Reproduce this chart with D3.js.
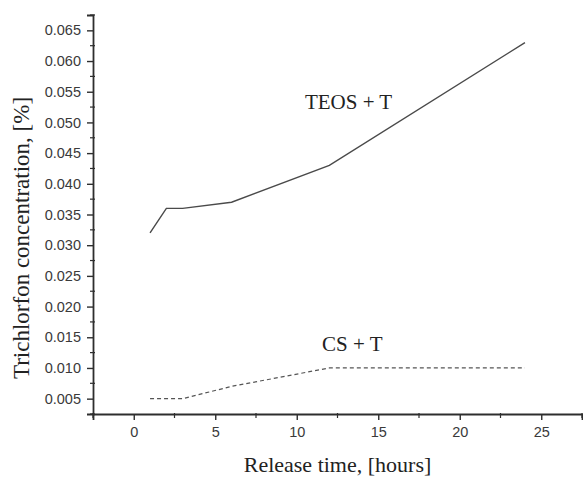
<!DOCTYPE html>
<html>
<head>
<meta charset="utf-8">
<script src="https://cdn.jsdelivr.net/npm/d3@7/dist/d3.min.js"></script>
<style>
  html, body { margin: 0; padding: 0; background: #fff; }
  svg { display: block; }
</style>
</head>
<body>
<svg id="chart" width="583" height="477"></svg>
<script>
// Release time points (hours)
const hours = [1, 2, 3, 6, 12, 24];
// Trichlorfon concentration, %
const teosValues = [0.032, 0.036, 0.036, 0.037, 0.043, 0.063];
const csValues = [0.005, 0.005, 0.005, 0.007, 0.010, 0.010];
const seriesNames = ["TEOS + T", "CS + T"];
const xTickValues = [0, 5, 10, 15, 20, 25];
const yTickValues = [0.005, 0.010, 0.015, 0.020, 0.025, 0.030, 0.035, 0.040, 0.045, 0.050, 0.055, 0.060, 0.065];

const svg = d3.select("#chart");
const plotLeft = 93, plotRight = 582, plotTop = 15, plotBottom = 414;

const x = d3.scaleLinear().domain([-2.5, 27.5]).range([plotLeft, plotRight]);
const y = d3.scaleLinear().domain([0.0025, 0.0675]).range([plotBottom, plotTop]);

const axisColor = "#2e2e2e";
const textColor = "#3a3a3a";
const tickFont = "Liberation Sans, Arial, sans-serif";
const serif = "Liberation Serif, Times New Roman, serif";

// Minor ticks (halfway between majors)
const xMinor = d3.range(-2.5, 27.6, 5);
const yMinor = d3.range(0.0025, 0.0676, 0.005);

const gx = svg.append("g").attr("transform", `translate(0,${plotBottom})`);
gx.call(d3.axisBottom(x).tickValues(xTickValues).tickSize(6).tickPadding(7).tickFormat(d3.format("d")));
gx.append("g").selectAll("line").data(xMinor).join("line")
  .attr("x1", d => x(d)).attr("x2", d => x(d)).attr("y1", -1).attr("y2", 4)
  .attr("stroke", axisColor).attr("stroke-width", 1.2);

const gy = svg.append("g").attr("transform", `translate(${plotLeft},0)`);
gy.call(d3.axisLeft(y).tickValues(yTickValues).tickSize(6).tickPadding(6).tickFormat(d3.format(".3f")));
gy.append("g").selectAll("line").data(yMinor).join("line")
  .attr("x1", -3).attr("x2", 2).attr("y1", d => y(d)).attr("y2", d => y(d))
  .attr("stroke", axisColor).attr("stroke-width", 1.2);

[gx, gy].forEach(g => {
  g.select(".domain").attr("stroke", axisColor).attr("stroke-width", 1.8);
  g.selectAll(".tick line").attr("stroke", axisColor).attr("stroke-width", 1.4);
  g.selectAll(".tick text").attr("fill", textColor)
    .style("font-family", tickFont).style("font-size", "14.5px");
});

// Series lines
const line = d3.line().x(d => x(d[0])).y(d => y(d[1]));
svg.append("path")
  .datum(hours.map((h, i) => [h, teosValues[i]]))
  .attr("d", line).attr("fill", "none")
  .attr("stroke", "#4a4a4a").attr("stroke-width", 1.4);
svg.append("path")
  .datum(hours.map((h, i) => [h, csValues[i]]))
  .attr("d", line).attr("fill", "none")
  .attr("stroke", "#555").attr("stroke-width", 1.2)
  .attr("stroke-dasharray", "4,3");

// Series annotations
svg.append("text").attr("x", x(10.5)).attr("y", 109)
  .style("font-family", serif).style("font-size", "21px").attr("fill", "#222")
  .text(seriesNames[0]);
svg.append("text").attr("x", x(11.55)).attr("y", 351)
  .style("font-family", serif).style("font-size", "21px").attr("fill", "#222")
  .text(seriesNames[1]);

// Axis titles
svg.append("text").attr("x", (plotLeft + plotRight) / 2).attr("y", 472)
  .attr("text-anchor", "middle")
  .style("font-family", serif).style("font-size", "22px").attr("fill", "#222")
  .text("Release time, [hours]");
svg.append("text")
  .attr("transform", "translate(29,238) rotate(-90)")
  .attr("text-anchor", "middle")
  .style("font-family", serif).style("font-size", "23px").attr("fill", "#222")
  .text("Trichlorfon concentration, [%]");
</script>
</body>
</html>
